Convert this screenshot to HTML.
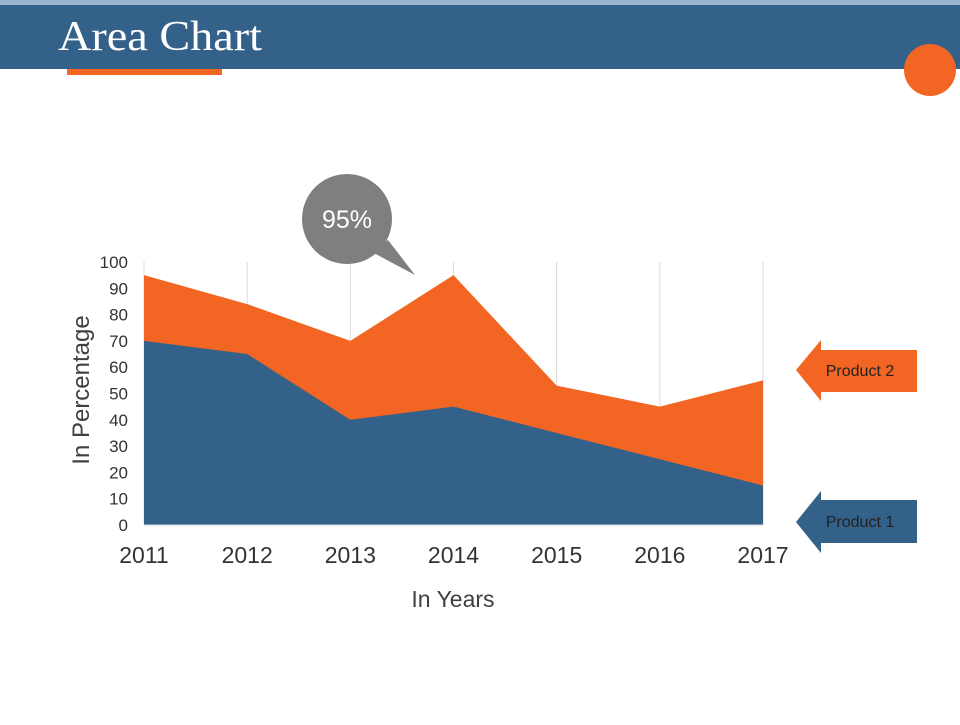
<!DOCTYPE html>
<html><head><meta charset="utf-8"><style>
body{margin:0;width:960px;height:720px;background:#fff;overflow:hidden;font-family:"Liberation Sans",sans-serif}
</style></head><body>
<svg width="960" height="720">
<rect x="0" y="0" width="960" height="6" fill="#9ab3cf"/>
<rect x="0" y="5" width="960" height="64" fill="#336189"/>
<text x="58" y="50" font-family="Liberation Serif,serif" font-size="42" textLength="204" lengthAdjust="spacingAndGlyphs" fill="#fff">Area Chart</text>
<rect x="67" y="69" width="155" height="6" fill="#f26522"/>
<circle cx="930" cy="70" r="26" fill="#f26522"/>
<g id="chart"></g>
<g>
<path d="M372,252 L415,275 L388,240 Z" fill="#7f7f7f"/>
<circle cx="347" cy="219" r="45" fill="#7f7f7f"/>
<text x="347" y="228" text-anchor="middle" font-size="25" fill="#fff">95%</text>
</g>
<g>
<path d="M796,370 L821,340 L821,350 L917,350 L917,392 L821,392 L821,401 Z" fill="#f26522"/>
<text x="860" y="376" text-anchor="middle" font-size="16" fill="#222">Product 2</text>
</g>
<g>
<path d="M796,522 L821,491 L821,500 L917,500 L917,543 L821,543 L821,553 Z" fill="#336189"/>
<text x="860" y="527" text-anchor="middle" font-size="16" fill="#222">Product 1</text>
</g>
<text x="453" y="607" text-anchor="middle" font-size="23" fill="#404040">In Years</text>
<text transform="translate(89,390) rotate(-90)" text-anchor="middle" font-size="24" fill="#404040">In Percentage</text>
</svg>
<script>
const categories=["2011","2012","2013","2014","2015","2016","2017"];
const product1=[70,65,40,45,35,25,15];
const product2=[95,84,70,95,53,45,55];
const yTicks=[0,10,20,30,40,50,60,70,80,90,100];
const NS="http://www.w3.org/2000/svg";
const g=document.getElementById('chart');
const x0=144,x1=763,y0=525,y1=262;
function xs(i){return x0+(x1-x0)*i/(categories.length-1);}
function ys(v){return y0-(y0-y1)*v/100;}
function mk(t,a){const e=document.createElementNS(NS,t);for(const k in a)e.setAttribute(k,a[k]);g.appendChild(e);return e;}
categories.forEach((c,i)=>{
  const l=mk('line',{x1:xs(i),x2:xs(i),y1:y1,y2:y0,stroke:'#d9d9d9','stroke-width':1});
  
  
});
function area(vals,color,name){
  let d='M'+xs(0)+','+y0;
  vals.forEach((v,i)=>{d+=' L'+xs(i)+','+ys(v);});
  d+=' L'+xs(vals.length-1)+','+y0+' Z';
  const p=mk('path',{d:d,fill:color});
  
  
}
area(product2,'#f26522','area-product-2');
area(product1,'#336189','area-product-1');
const ax=mk('line',{x1:x0,x2:x1,y1:y0,y2:y0,stroke:'#d9d9d9'});


yTicks.forEach(v=>{
  const t=mk('text',{x:128,y:ys(v)+6,'text-anchor':'end','font-size':17,fill:'#333'});
  t.textContent=v;
  
  
});
categories.forEach((c,i)=>{
  const t=mk('text',{x:xs(i),y:563,'text-anchor':'middle','font-size':23,fill:'#333'});
  t.textContent=c;
  
  
});
</script>
</body></html>
